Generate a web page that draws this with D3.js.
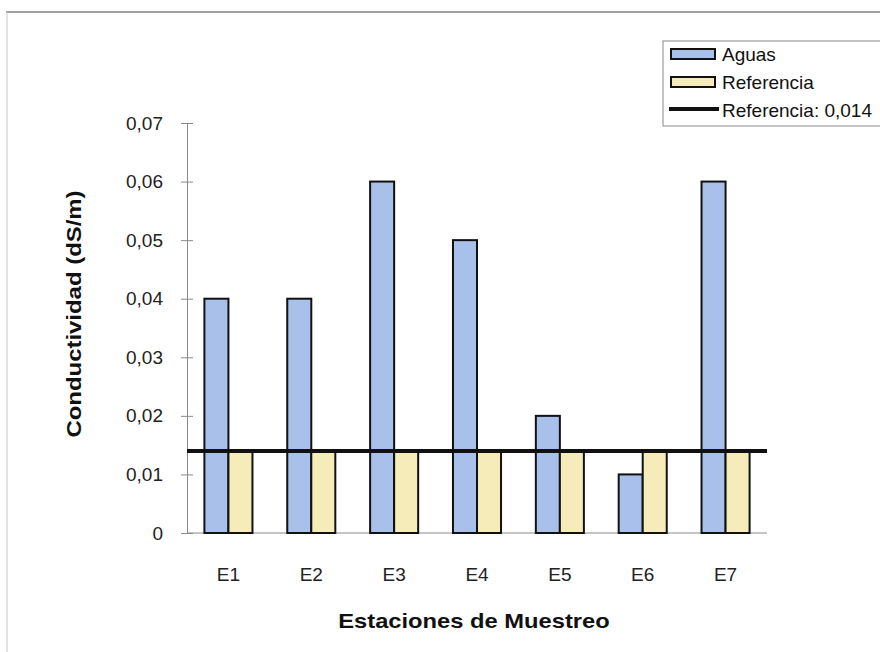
<!DOCTYPE html>
<html>
<head>
<meta charset="utf-8">
<script src="https://cdn.jsdelivr.net/npm/d3@7"></script>
<style>
  html, body { margin: 0; padding: 0; background: #ffffff; }
  svg { display: block; font-family: "Liberation Sans", Arial, sans-serif; }
</style>
</head>
<body>
<svg id="chart" width="880" height="652"></svg>
<script>
// Conductividad por estación de muestreo
const estaciones = ["E1", "E2", "E3", "E4", "E5", "E6", "E7"];
const aguas = [0.04, 0.04, 0.06, 0.05, 0.02, 0.01, 0.06];
const referencia = [0.014, 0.014, 0.014, 0.014, 0.014, 0.014, 0.014];
const valorReferencia = 0.014;
const yTicks = [0, 0.01, 0.02, 0.03, 0.04, 0.05, 0.06, 0.07];
const seriesNames = ["Aguas", "Referencia"];
const legendLineLabel = "Referencia: 0,014";

const colors = { Aguas: "#a8c0ea", Referencia: "#f6ecba" };

const svg = d3.select("#chart");

// outer frame
svg.append("line").attr("x1", 6).attr("x2", 880).attr("y1", 12).attr("y2", 12)
  .attr("stroke", "#444").attr("stroke-width", 1);
svg.append("line").attr("x1", 7).attr("x2", 7).attr("y1", 12).attr("y2", 652)
  .attr("stroke", "#c8c8c8").attr("stroke-width", 1);

const plot = { left: 187, right: 767, top: 123, bottom: 533 };

const x = d3.scaleBand().domain(estaciones)
  .range([plot.left, plot.right]).paddingInner(0.42).paddingOuter(0.21);
const xInner = d3.scaleBand().domain(seriesNames).range([0, x.bandwidth()]);
const y = d3.scaleLinear().domain([0, 0.07]).range([plot.bottom, plot.top]);

const fmt = d => d === 0 ? "0" : d3.format(".2f")(d).replace(".", ",");

// y axis
const yAxis = svg.append("g").attr("transform", `translate(${plot.left},0)`)
  .call(d3.axisLeft(y).tickValues(yTicks).tickFormat(fmt).tickSize(6).tickPadding(18));
yAxis.select(".domain").attr("stroke", "#8a8a8a");
yAxis.selectAll(".tick line").attr("stroke", "#8a8a8a").attr("x2", 6).attr("x1", -6);
yAxis.selectAll(".tick text").attr("font-size", 19).attr("fill", "#222")
  .attr("font-family", "Liberation Sans, Arial, sans-serif");

// x axis
const xAxis = svg.append("g").attr("transform", `translate(0,${plot.bottom})`)
  .call(d3.axisBottom(x).tickSize(0).tickPadding(35));
xAxis.select(".domain").attr("stroke", "#8a8a8a").attr("d", `M${plot.left},0H${plot.right}`);
xAxis.selectAll(".tick text").attr("font-size", 19).attr("fill", "#222")
  .attr("font-family", "Liberation Sans, Arial, sans-serif");

// bars
const rows = estaciones.map((e, i) => ({ e, values: [
  { name: "Aguas", v: aguas[i] },
  { name: "Referencia", v: referencia[i] }
]}));

const groups = svg.append("g").selectAll("g").data(rows).join("g")
  .attr("transform", d => `translate(${x(d.e)},0)`);
groups.selectAll("rect").data(d => d.values).join("rect")
  .attr("x", d => xInner(d.name))
  .attr("width", xInner.bandwidth())
  .attr("y", d => y(d.v))
  .attr("height", d => y(0) - y(d.v))
  .attr("fill", d => colors[d.name])
  .attr("stroke", "#111").attr("stroke-width", 2);

// reference line
svg.append("line")
  .attr("x1", plot.left).attr("x2", plot.right)
  .attr("y1", y(valorReferencia)).attr("y2", y(valorReferencia))
  .attr("stroke", "#111").attr("stroke-width", 4);

// axis titles (slightly widened bold type)
svg.append("text").attr("transform", "translate(474,628) scale(1.13,1)")
  .attr("text-anchor", "middle")
  .attr("font-size", 21).attr("font-weight", "bold").attr("fill", "#111")
  .text("Estaciones de Muestreo");
svg.append("text").attr("transform", "translate(81,314) rotate(-90) scale(1.14,1)")
  .attr("text-anchor", "middle").attr("font-size", 21).attr("font-weight", "bold")
  .attr("fill", "#111").text("Conductividad (dS/m)");

// legend
const lg = svg.append("g").attr("transform", "translate(663,41)");
lg.append("rect").attr("x", 0).attr("y", 0).attr("width", 230).attr("height", 85)
  .attr("fill", "#fff").attr("stroke", "#888").attr("stroke-width", 1);
seriesNames.forEach((n, i) => {
  const cy = 13 + i * 28;
  lg.append("rect").attr("x", 8).attr("y", cy - 5).attr("width", 44).attr("height", 10)
    .attr("fill", colors[n]).attr("stroke", "#111").attr("stroke-width", 2);
  lg.append("text").attr("x", 59).attr("y", cy + 7).attr("font-size", 19)
    .attr("fill", "#111").text(n);
});
lg.append("line").attr("x1", 6).attr("x2", 56).attr("y1", 68).attr("y2", 68)
  .attr("stroke", "#111").attr("stroke-width", 4);
lg.append("text").attr("x", 59).attr("y", 76).attr("font-size", 19)
  .attr("fill", "#111").text(legendLineLabel);
</script>
</body>
</html>
